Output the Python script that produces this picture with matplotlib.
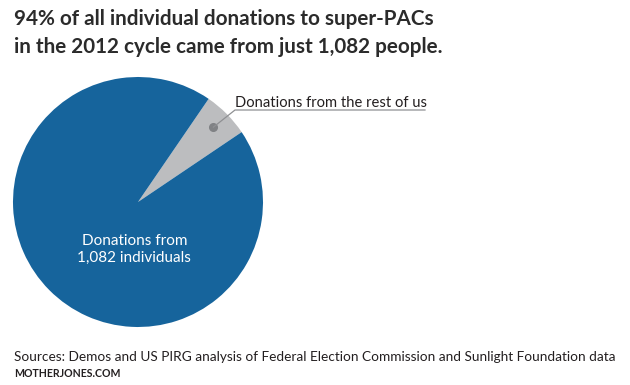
import numpy as np
import matplotlib
matplotlib.use('Agg')
import matplotlib.pyplot as plt
from matplotlib.lines import Line2D

plt.rcParams['font.family'] = ['Lato', 'DejaVu Sans']

# Data
labels = ['Donations from the rest of us', 'Donations from\n1,082 individuals']
shares = [6, 94]
colors = ['#bcbdbf', '#16649c']

title = '94% of all individual donations to super-PACs\nin the 2012 cycle came from just 1,082 people.'
source = 'Sources: Demos and US PIRG analysis of Federal Election Commission and Sunlight Foundation data'

W, H = 630, 385
fig = plt.figure(figsize=(W / 100, H / 100), dpi=100)

def fx(px):
    return px / W

def fy(py):
    return 1 - py / H

# pie centre (138, 202) px, radius 125 px
ax = fig.add_axes([fx(13), fy(327), 250 / W, 250 / H])
wedges, _ = ax.pie(shares, colors=colors, startangle=34, counterclock=True,
                   radius=1, wedgeprops=dict(linewidth=0))
ax.set_xlim(-1, 1)
ax.set_ylim(-1, 1)
ax.set_aspect('equal')
ax.axis('off')

# inner label
ax.text(-0.03, -0.38, labels[1], color='white', fontsize=11,
        ha='center', va='center', linespacing=1.3)

# callout for the small slice
w = wedges[0]
mid = np.deg2rad((w.theta1 + w.theta2) / 2)
dot = (0.85 * np.cos(mid), 0.85 * np.sin(mid))
ax.plot(*dot, 'o', color='#808285', ms=5.5, zorder=5)
dot_fig = fig.transFigure.inverted().transform(ax.transData.transform(dot))
fig.add_artist(Line2D([dot_fig[0], fx(235), fx(425)], [dot_fig[1], fy(110), fy(110)],
                      color='#8f9093', lw=0.9, transform=fig.transFigure))
fig.text(fx(235), fy(107), labels[0], fontsize=10.6, color='#231f20',
         ha='left', va='baseline')

# title and sources
fig.text(fx(14), fy(9), title, fontsize=14.9, fontweight='bold', color='#2b2b2b',
         ha='left', va='top', linespacing=1.5)
fig.text(fx(14), fy(361), source, fontsize=9.85, color='#231f20', ha='left', va='baseline')
fig.text(fx(14), fy(377), 'MOTHERJONES.COM', fontsize=7.6, fontweight='bold',
         color='#231f20', ha='left', va='baseline')

fig.savefig('out.png', dpi=100, facecolor='white')
